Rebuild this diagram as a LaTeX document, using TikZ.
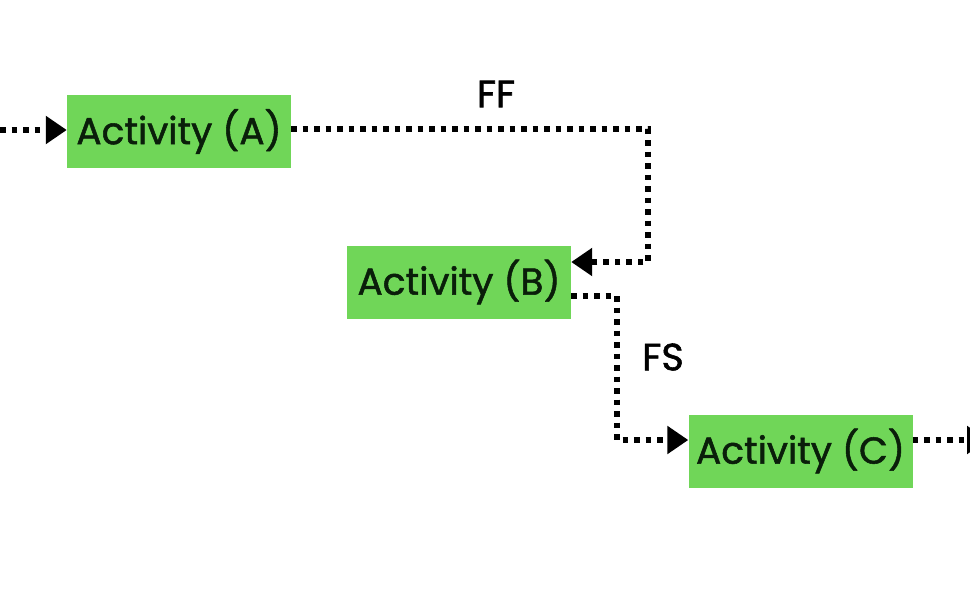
\documentclass[tikz,border=0pt]{standalone}
\usepackage{fontspec}
\setmainfont{Poppins}[FakeBold=1.4]
\usetikzlibrary{arrows.meta}
\definecolor{boxgreen}{RGB}{112,214,88}
\definecolor{txtdark}{RGB}{10,30,10}
\tikzset{
  actbox/.style={fill=boxgreen, text=txtdark, minimum width=224pt, minimum height=73pt, inner sep=0pt, font=\fontsize{37.5}{44}\selectfont},
  dotline/.style={line width=5.5pt, dash pattern=on 5.5pt off 6pt, -{Triangle[length=21pt,width=27pt]}},
  rel/.style={font=\fontsize{38}{44}\selectfont, text=black}
}
\begin{document}
\begin{tikzpicture}[x=1pt,y=-1pt]
\useasboundingbox (0,0) rectangle (970,608);
\node[actbox] (A) at (179,131.5) {\raisebox{-2pt}{Activity (A)}};
\node[actbox] (B) at (459,282) {\raisebox{-2pt}{Activity (B)}};
\node[actbox] (C) at (800.5,451) {\raisebox{-2pt}{Activity (C)}};
\coordinate (start) at (0,130);
\coordinate (end) at (988,440);
\coordinate (k1) at (648,129);
\coordinate (k2) at (617,296);
\draw[dotline] (start) -- (A.west |- start);
\draw[dotline] (A.east |- k1) -- (k1) -- (k1 |- 0,262) -- (B.east |- 0,262);
\draw[dotline] (B.east |- k2) -- (k2) -- (k2 |- 0,440) -- (C.west |- 0,440);
\draw[dotline] (C.east |- end) -- (end);
\node[rel] (FF) at (496,94) {FF};
\node[rel] (FS) at (663,357) {FS};
\end{tikzpicture}
\end{document}
